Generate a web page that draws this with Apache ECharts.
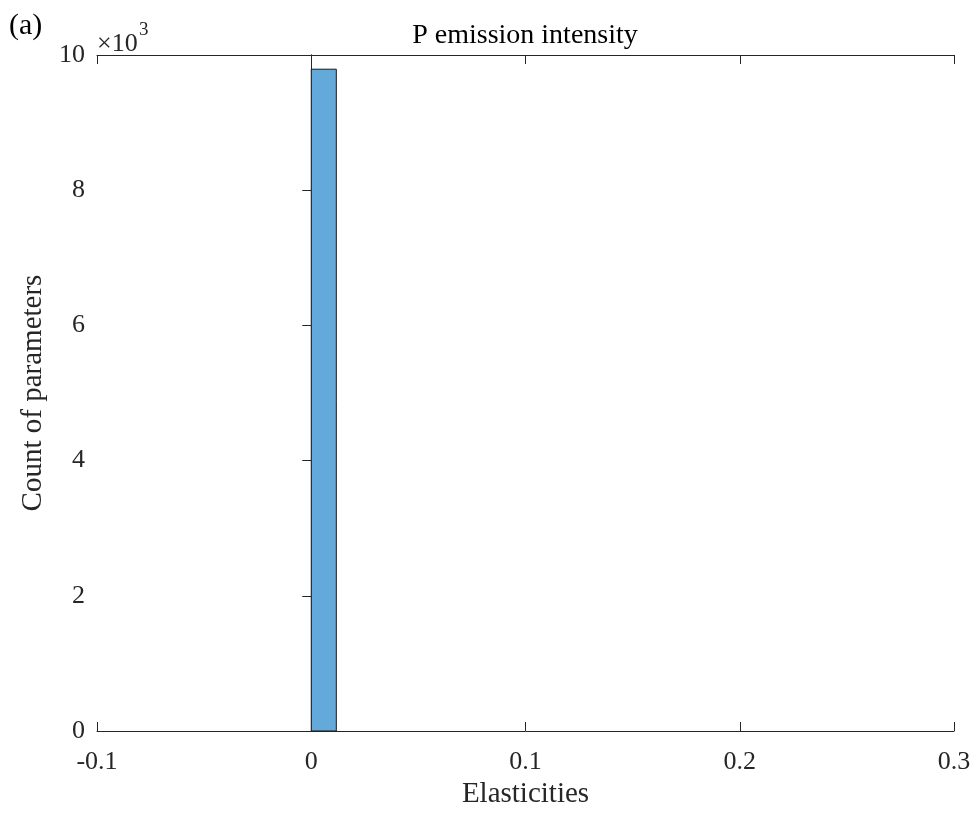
<!DOCTYPE html>
<html>
<head>
<meta charset="utf-8">
<script src="https://cdn.jsdelivr.net/npm/echarts@6/dist/echarts.min.js"></script>
<style>html,body{margin:0;padding:0;background:#fff}#c{width:974px;height:814px}</style>
</head>
<body>
<div id="c"></div>
<script>
// Histogram data
const binEdgesLeft = [0];
const binEdgesRight = [0.0117];
const counts = [9790];
const xTicks = [-0.1, 0, 0.1, 0.2, 0.3];
const yTicks = [0, 2, 4, 6, 8, 10]; // x10^3

const FONT = "'Liberation Serif', 'Times New Roman', serif";
const AX = '#262626';
const chart = echarts.init(document.getElementById('c'), null, {renderer: 'canvas'});
const data = counts.map((c, i) => [binEdgesLeft[i], binEdgesRight[i], c]);

const fmtX = v => { const r = Math.round(v * 10) / 10; return r === 0 ? '0' : String(r); };

chart.setOption({
  backgroundColor: '#fff',
  animation: false,
  title: {
    text: 'P emission intensity', left: 525, top: 22, textAlign: 'center', padding: 0,
    textStyle: {fontFamily: FONT, fontSize: 28, fontWeight: 'normal', color: '#000'}
  },
  grid: {left: 97, right: 20, top: 55, bottom: 81, containLabel: false},
  xAxis: [{
    type: 'value', min: -0.1, max: 0.3, interval: 0.1,
    name: 'Elasticities', nameLocation: 'middle', nameGap: 49,
    nameTextStyle: {fontFamily: FONT, fontSize: 29, color: '#262626'},
    axisLine: {show: true, onZero: false, lineStyle: {color: AX, width: 1}},
    axisTick: {show: true, inside: true, length: 9, lineStyle: {color: AX}},
    axisLabel: {fontFamily: FONT, fontSize: 26, color: '#262626', margin: 18, formatter: fmtX},
    splitLine: {show: false}
  }, {
    type: 'value', min: -0.1, max: 0.3, interval: 0.1, position: 'top',
    axisLine: {show: true, onZero: false, lineStyle: {color: AX, width: 1}},
    axisTick: {show: true, inside: true, length: 9, lineStyle: {color: AX}},
    axisLabel: {show: false}, splitLine: {show: false}
  }],
  yAxis: [{
    type: 'value', min: 0, max: 10000, interval: 2000,
    name: 'Count of parameters', nameLocation: 'middle', nameGap: 44,
    nameTextStyle: {fontFamily: FONT, fontSize: 29, color: '#262626'},
    axisLine: {show: true, lineStyle: {color: AX, width: 1}},
    axisTick: {show: true, inside: true, length: 9, lineStyle: {color: AX}},
    axisLabel: {fontFamily: FONT, fontSize: 26, color: '#262626', margin: 12,
      formatter: v => String(v / 1000)},
    splitLine: {show: false}
  }, {
    type: 'value', min: 0, max: 10000, interval: 2000, position: 'right',
    axisLine: {show: true, lineStyle: {color: AX, width: 1}},
    axisTick: {show: true, inside: true, length: 9, lineStyle: {color: AX}},
    axisLabel: {show: false}, splitLine: {show: false}
  }],
  series: [{
    type: 'custom',
    xAxisIndex: 0, yAxisIndex: 0,
    data: data,
    encode: {x: [0, 1], y: 2},
    renderItem: function (params, api) {
      const p0 = api.coord([api.value(0), api.value(2)]);
      const p1 = api.coord([api.value(1), 0]);
      return {
        type: 'rect',
        shape: {x: p0[0], y: p0[1], width: p1[0] - p0[0], height: p1[1] - p0[1]},
        style: {fill: '#63a9d9', stroke: '#1a1a1a', lineWidth: 1}
      };
    }
  }],
  graphic: [
    {type: 'text', left: 9, top: 11,
      style: {text: '(a)', fontFamily: FONT, fontSize: 30, fill: '#000'}},
    {type: 'text', left: 97, top: 31,
      style: {text: '×10', fontFamily: FONT, fontSize: 26, fill: '#262626'}},
    {type: 'text', left: 139, top: 21,
      style: {text: '3', fontFamily: FONT, fontSize: 19, fill: '#262626'}}
  ]
});
</script>
</body>
</html>
